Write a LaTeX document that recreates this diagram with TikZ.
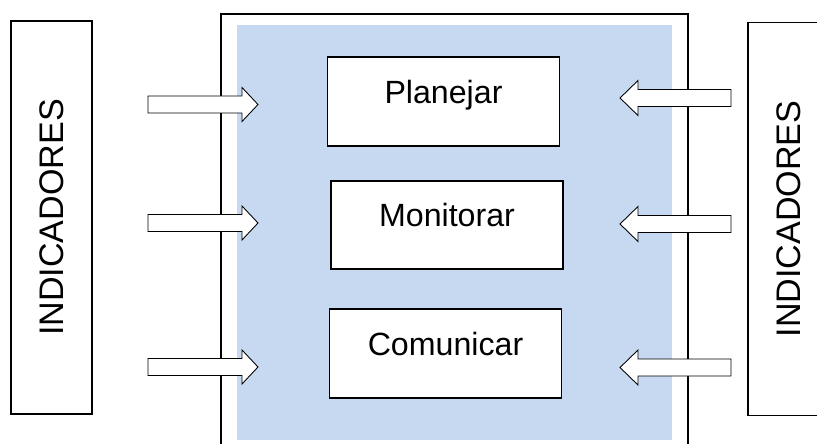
\documentclass[tikz,border=0pt]{standalone}
\usepackage{fontspec}
\setmainfont{Liberation Sans}
\definecolor{panelblue}{RGB}{198,217,241}

\begin{document}
\begin{tikzpicture}[font=\fontsize{18.3}{22}\selectfont,
    sidebox/.style={draw,line width=1pt,rotate=90,minimum width=7.86cm,minimum height=1.62cm,inner sep=0pt,
        font=\fontsize{19.4}{23}\selectfont},
    taskbox/.style={draw,fill=white,line width=1pt,minimum width=4.64cm,inner xsep=0pt,inner ysep=0pt,
        text height=0.92cm,text depth=0.85cm},
    blockarrow/.style={draw,fill=white,line width=0.5pt,line join=miter}]
    \useasboundingbox (0,0) rectangle (16.34,8.86);
    \clip (0,0) rectangle (16.34,8.86);
    % frame with the shaded panel
    \draw [line width=1pt] (4.42,-0.5) -- (4.42,8.58) -- (13.76,8.58) -- (13.76,-0.5);
    \fill [panelblue] (4.74,0.06) rectangle (13.44,8.36);
    \node [taskbox] (plan) at (8.87,6.83) {Planejar};
    \node [taskbox] (mon) at (8.94,4.36) {Monitorar};
    \node [taskbox] (com) at (8.91,1.79) {Comunicar};
    % side columns
    \node [sidebox] (indL) at (1.03,4.51) {INDICADORES};
    \node [sidebox] (indR) at (15.77,4.48) {INDICADORES};
    % arrows pointing in from both sides
    \foreach \y in {6.77,4.40,1.52}
        \draw [blockarrow] (2.96,\y+0.17) -- (4.84,\y+0.17) -- (4.84,\y+0.34) -- (5.16,\y)
            -- (4.84,\y-0.34) -- (4.84,\y-0.17) -- (2.96,\y-0.17) -- cycle;
    \foreach \y in {6.90,4.38,1.51}
        \draw [blockarrow] (14.62,\y+0.17) -- (12.76,\y+0.17) -- (12.76,\y+0.35) -- (12.40,\y)
            -- (12.76,\y-0.35) -- (12.76,\y-0.17) -- (14.62,\y-0.17) -- cycle;
\end{tikzpicture}
\end{document}
